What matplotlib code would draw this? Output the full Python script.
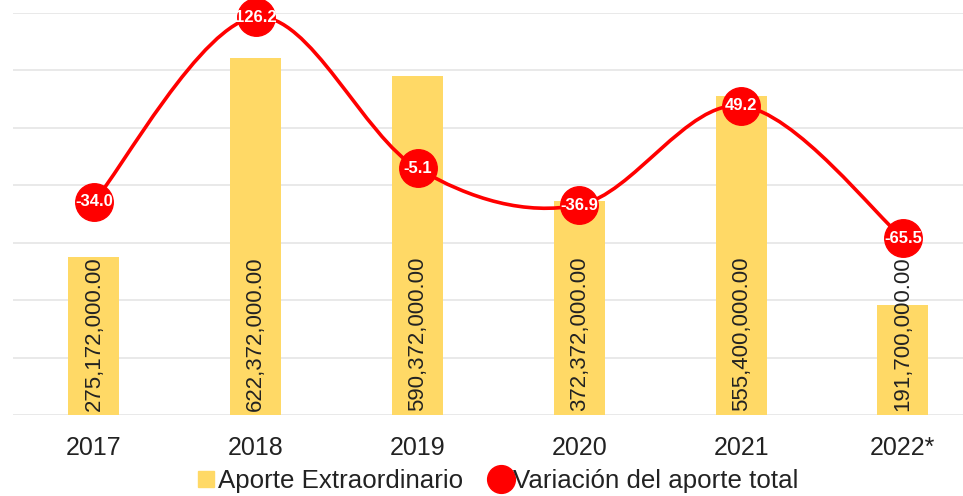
import numpy as np
import matplotlib.pyplot as plt
from matplotlib.path import Path
from matplotlib.patches import PathPatch
from matplotlib.lines import Line2D

plt.rcParams["font.family"] = ["Liberation Sans", "DejaVu Sans"]

years = ["2017", "2018", "2019", "2020", "2021", "2022*"]
aporte = [275172000.00, 622372000.00, 590372000.00, 372372000.00, 555400000.00, 191700000.00]
variacion = [-34.0, 126.2, -5.1, -36.9, 49.2, -65.5]

bar_color = "#FFD966"
line_color = "#FF0000"
text_color = "#222222"

W, H = 963, 496
fig = plt.figure(figsize=(W / 100, H / 100), dpi=100)
ax = fig.add_axes([13 / W, 81 / H, 950 / W, 402 / H])

x = np.arange(len(years))
ax.bar(x, aporte, width=0.315, color=bar_color, zorder=2)
for xi, v in zip(x, aporte):
    ax.annotate(f"{v:,.2f}", (xi, 0), xytext=(0, 3), textcoords="offset points",
                rotation=90, ha="center", va="bottom", fontsize=16,
                color=text_color, zorder=3)

# secondary axis with smoothed line
ax2 = ax.twinx()
ax2.set_ylim(-219, 129.7)
ax2.axis("off")

ax.set_xlim(-0.5, -0.5 + 950 / 161.8)
ax.set_ylim(0, 700e6)
ax.set_yticks(np.arange(0, 700e6 + 1, 100e6))
ax.yaxis.grid(True, color="#e3e3e3", linewidth=1.1, zorder=0)
ax.set_axisbelow(True)
ax.tick_params(axis="y", left=False, right=False, labelleft=False, labelright=False)
ax.set_xticks(x)
ax.set_xticklabels(years, fontsize=18, color=text_color)
ax.tick_params(axis="x", length=0, pad=15)
for s in ax.spines.values():
    s.set_visible(False)

pts = np.column_stack([x, variacion]).astype(float)
ext = np.vstack([pts[0], pts, pts[-1]])
verts = [tuple(pts[0])]
codes = [Path.MOVETO]
for i in range(len(pts) - 1):
    p0, p1, p2, p3 = ext[i], ext[i + 1], ext[i + 2], ext[i + 3]
    c1 = p1 + (p2 - p0) / 6
    c2 = p2 - (p3 - p1) / 6
    verts += [tuple(c1), tuple(c2), tuple(p2)]
    codes += [Path.CURVE4] * 3
curve = PathPatch(Path(verts, codes), facecolor="none", edgecolor=line_color,
                  linewidth=2.6, clip_on=False, zorder=3)
ax2.add_patch(curve)
ax2.plot(x, variacion, "o", color=line_color, markersize=27, clip_on=False, zorder=4)
for xi, v in zip(x, variacion):
    ax2.text(xi, v, f"{v:.1f}", ha="center", va="center", color="white",
             fontsize=12, fontweight="bold", zorder=5, clip_on=False)

handles = [
    Line2D([], [], marker="s", linestyle="none", color=bar_color, markersize=11),
    Line2D([], [], marker="o", linestyle="none", color=line_color, markersize=20),
]
fig.legend(handles, ["Aporte Extraordinario", "Variación del aporte total"],
           loc="center", bbox_to_anchor=(497 / W, 15 / H), ncol=2, frameon=False,
           fontsize=18.6, handlelength=0.8, handletextpad=0.05, columnspacing=1.1,
           labelcolor=text_color, borderpad=0)

fig.savefig("out.png", dpi=100)
